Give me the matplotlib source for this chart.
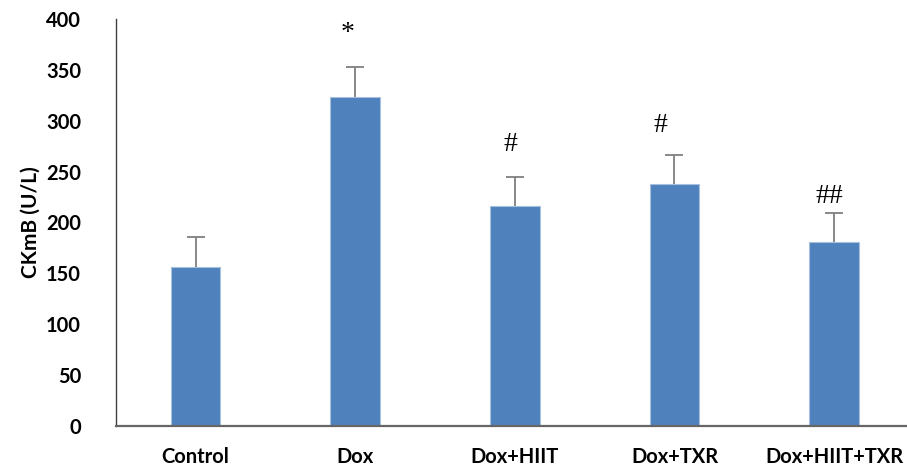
import numpy as np
import matplotlib as mpl

mpl.use('Agg')

import matplotlib.pyplot as plt

groups = ['Control', 'Dox', 'Dox+HIIT', 'Dox+TXR', 'Dox+HIIT+TXR']
means = [155.8, 323.6, 216.1, 237.7, 181.0]
upper_err = [29.8, 29.5, 28.9, 28.6, 28.5]
marks = ['', '*', '#', '#', '##']
mark_y = [0, 386, 277, 295, 225]
mark_dx = [0, -0.045, -0.03, -0.09, -0.03]

fig = plt.figure(figsize=(9.07, 4.68), dpi=100)
ax = fig.add_axes([0.1276, 0.0904, 0.880, 0.869])

x = np.arange(len(groups))
ax.bar(x, means, width=0.31, color='#4F81BD', edgecolor='#A7C0DE',
       linewidth=0.8, zorder=2)
eb = ax.errorbar(x, means, yerr=[np.zeros(len(means)), upper_err],
                 fmt='none', ecolor='#7F7F7F', elinewidth=1.3, capsize=6.5,
                 capthick=1.3, zorder=3)
# only the upper cap is drawn in the original
eb[1][0].set_visible(False)

for xi, m, my, dx in zip(x, marks, mark_y, mark_dx):
    if m:
        ax.text(xi + dx, my, m, ha='center', va='center', fontsize=20,
                family='Liberation Serif', color='black')

ax.set_xlim(-0.5, 4.5)
ax.set_ylim(0, 400)
ax.set_yticks(np.arange(0, 401, 50))
ax.set_xticks(x)
ax.set_xticklabels(groups)

for lab in ax.get_xticklabels() + ax.get_yticklabels():
    lab.set_family('Lato')
    lab.set_fontweight('bold')
    lab.set_fontsize(14.5)

ax.tick_params(axis='y', length=0, pad=25)
ax.tick_params(axis='x', length=0, pad=15)

ax.set_ylabel('CKmB (U/L)', family='Lato', fontweight='bold', fontsize=15,
              labelpad=4)

ax.spines['top'].set_visible(False)
ax.spines['right'].set_visible(False)
ax.spines['left'].set_color('#404040')
ax.spines['left'].set_linewidth(1.0)
ax.spines['bottom'].set_color('#666666')
ax.spines['bottom'].set_linewidth(1.6)

fig.savefig('out.png', dpi=100)
